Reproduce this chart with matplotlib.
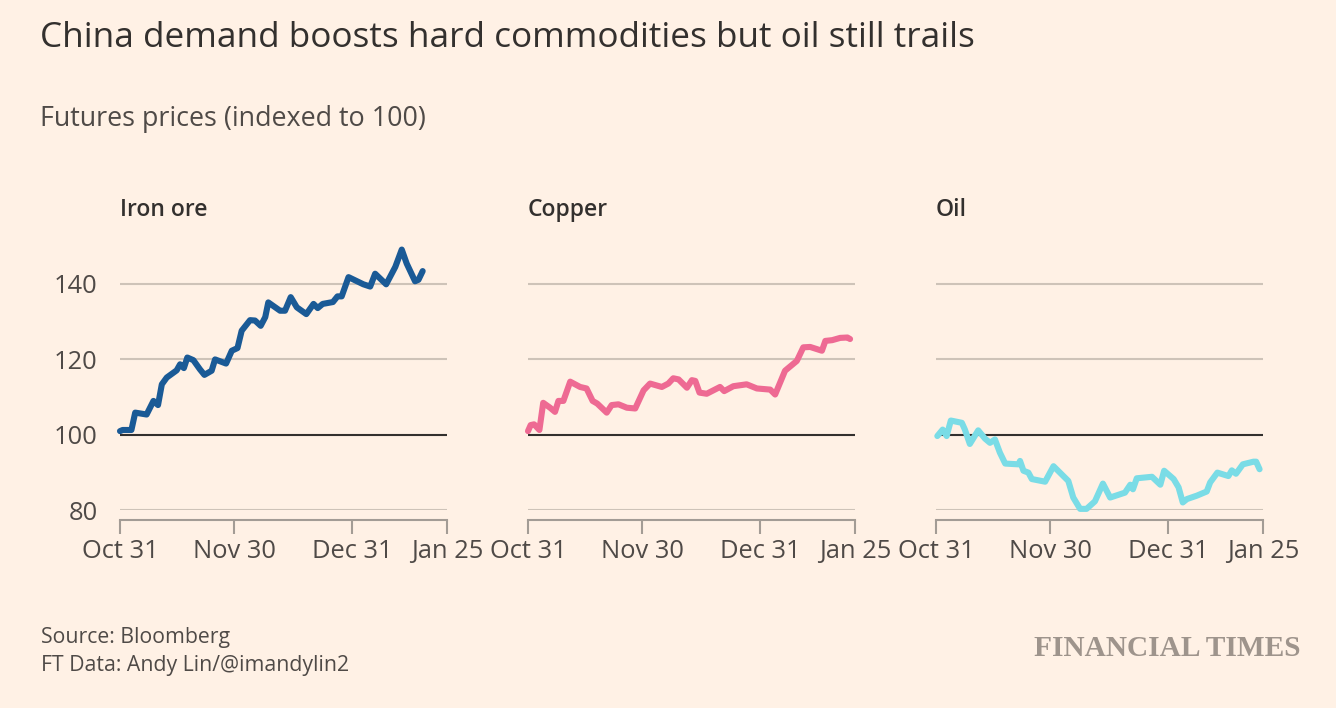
import numpy as np
import matplotlib
matplotlib.use("Agg")
import matplotlib.pyplot as plt

# ============================================
# Data (days since Oct 31)
# ============================================
iron_days = [0, 0.7, 3, 4, 7, 8.8, 10, 11, 12.3, 14.9, 15.8, 16.8, 17.7, 19.3, 21,
             22.2, 24.1, 25, 27.9, 29.4, 30.9, 32, 34.2, 35.5, 37, 38.2, 39, 42.1,
             43.4, 44.9, 46.5, 49, 50.9, 52, 53.3, 56, 57.2, 58.3, 60.1, 64, 65.8,
             67.1, 70, 72.4, 74.1, 75.4, 77.6, 78.5, 79.6]
iron_vals = [100.9, 101.2, 101.2, 105.8, 105.3, 108.9, 107.8, 113.3, 115.1, 117.0,
             118.6, 117.6, 120.4, 119.7, 117.3, 115.8, 116.9, 119.9, 118.8, 122.2,
             122.9, 127.5, 130.3, 130.2, 128.8, 131.1, 135.0, 132.8, 132.8, 136.4,
             133.7, 131.9, 134.6, 133.5, 134.6, 135.1, 136.6, 136.6, 141.7, 139.8,
             139.2, 142.6, 139.8, 144.4, 149.0, 145.3, 140.6, 141.0, 143.3]

copper_days = [0, 0.7, 1.6, 3, 4, 5.8, 7.1, 8, 9.3, 11.1, 13.7, 15.4, 17, 18.2, 20.7,
               22, 23.8, 26, 28.2, 30.4, 32.1, 35.2, 36.9, 38.2, 39.6, 41.8, 43.1, 44,
               45.1, 47, 50.5, 51.6, 54, 57.5, 60.2, 63.7, 65, 67.6, 70.7, 72.4, 74.2,
               77.3, 78.2, 80, 82.1, 84, 84.7]
copper_vals = [100.9, 102.5, 102.7, 101.2, 108.4, 107.1, 106.0, 108.9, 108.9, 114.0,
               112.6, 112.2, 108.9, 108.2, 105.8, 107.8, 108.0, 107.1, 106.9, 111.7,
               113.5, 112.6, 113.5, 114.9, 114.6, 112.4, 114.4, 114.2, 111.1, 110.8,
               112.6, 111.5, 112.8, 113.3, 112.2, 111.9, 110.6, 116.9, 119.5, 123.1,
               123.2, 122.2, 124.8, 125.0, 125.6, 125.7, 125.3]

oil_days = [0.35, 1.75, 2.8, 3.9, 6.8, 7.6, 8.9, 11.1, 12.9, 14.2, 15.5, 16.8, 18.2,
            21.7, 22.1, 23, 24.3, 25.2, 28.7, 30.9, 32.6, 34.8, 36.1, 37.9, 39.6, 41.8,
            43.9, 45.8, 49.7, 51.1, 51.8, 52.8, 56.8, 59, 60, 62.5, 63.8, 64.9, 66,
            68.6, 71.2, 72.1, 74, 76.9, 77.8, 78.9, 80.7, 83.5, 84.2, 85.1]
oil_vals = [99.6, 101.3, 99.6, 103.7, 103.1, 101.3, 97.5, 101.1, 98.9, 97.8, 98.7,
            95.2, 92.3, 92.1, 93.0, 90.4, 89.9, 88.2, 87.5, 91.6, 89.9, 87.7, 83.3,
            80.3, 80.3, 82.3, 87.0, 83.3, 84.6, 86.7, 85.5, 88.4, 88.8, 86.7, 90.4,
            88.2, 86.0, 82.0, 82.9, 83.8, 84.9, 87.3, 89.9, 89.0, 90.5, 89.6, 92.1,
            92.8, 92.8, 90.8]

panel_names = ["Iron ore", "Copper", "Oil"]
panel_colors = ["#1A5A96", "#EE6A93", "#7ADCE6"]

tick_days = [0, 30, 61, 86]
tick_labels = ["Oct 31", "Nov 30", "Dec 31", "Jan 25"]
y_ticks = [80, 100, 120, 140]

# ============================================
# Figure
# ============================================
BG = "#FFF1E5"
W, H = 1336, 708
fig = plt.figure(figsize=(W / 100, H / 100), dpi=100, facecolor=BG)
plt.rcParams["font.family"] = ["Open Sans", "DejaVu Sans"]

fig.text(40 / W, 1 - 38 / H, "China demand boosts hard commodities but oil still trails",
         fontsize=25.3, color="#33302E", va="center", ha="left")
fig.text(40 / W, 1 - 119 / H, "Futures prices (indexed to 100)",
         fontsize=19.4, color="#4F4A47", va="center", ha="left")

series = [(iron_days, iron_vals), (copper_days, copper_vals), (oil_days, oil_vals)]
lefts = [120, 528, 936]
ax_w = 327
y_top, y_bot = 245.8, 510  # pixel rows for 150 and 80

for i, (days, vals) in enumerate(series):
    ax = fig.add_axes([lefts[i] / W, 1 - y_bot / H, ax_w / W, (y_bot - y_top) / H])
    ax.set_facecolor(BG)
    ax.set_xlim(0, 86)
    ax.set_ylim(80, 150)

    for y in y_ticks:
        if y == 100:
            ax.axhline(y, color="#33302E", lw=1.5, zorder=2)
        else:
            ax.axhline(y, color="#CEC3B8", lw=1.5, zorder=1)

    ax.plot(days, vals, color=panel_colors[i], lw=4.4, solid_capstyle="round",
            solid_joinstyle="round", zorder=3, clip_on=False)

    for s in ["top", "right", "left"]:
        ax.spines[s].set_visible(False)
    ax.spines["bottom"].set_position(("outward", 7))
    ax.spines["bottom"].set_color("#A39C95")
    ax.spines["bottom"].set_linewidth(1.5)

    ax.set_xticks(tick_days)
    ax.set_xticklabels(tick_labels)
    ax.tick_params(axis="x", length=10, width=1.5, color="#A39C95",
                   labelsize=18.4, labelcolor="#4F4A47", pad=4)

    ax.set_yticks(y_ticks)
    if i == 0:
        ax.set_yticklabels([str(t) for t in y_ticks])
        ax.tick_params(axis="y", length=0, labelsize=18.4, labelcolor="#4F4A47", pad=16)
    else:
        ax.tick_params(axis="y", length=0, labelleft=False)

    fig.text(lefts[i] / W, 1 - 210 / H, panel_names[i], fontsize=16.5,
             fontweight="semibold", color="#33302E", va="center", ha="left")

fig.text(41 / W, 1 - 637 / H, "Source: Bloomberg", fontsize=15.3,
         color="#4F4A47", va="center", ha="left")
fig.text(41 / W, 1 - 665 / H, "FT Data: Andy Lin/@imandylin2", fontsize=15.3,
         color="#4F4A47", va="center", ha="left")
fig.text(1300 / W, 1 - 648 / H, "FINANCIAL TIMES", fontsize=21.2, fontweight="bold",
         family="Liberation Serif", color="#9E948C", va="center", ha="right")

fig.savefig("out.png", dpi=100, facecolor=BG)
